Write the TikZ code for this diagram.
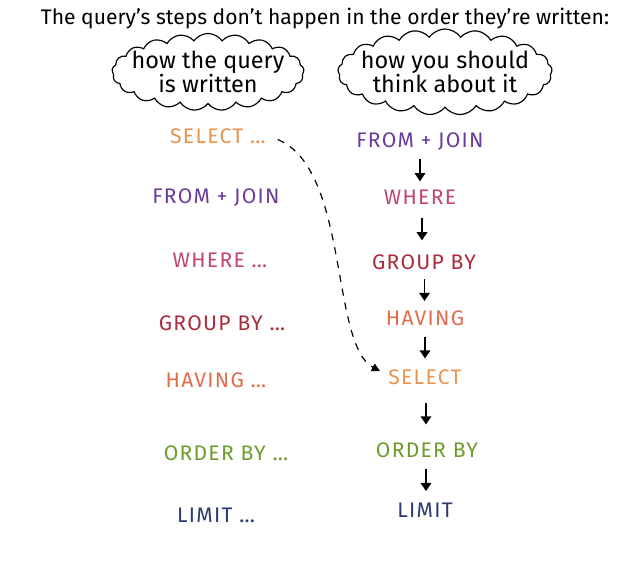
\documentclass[tikz,border=0pt]{standalone}
\usepackage{fontspec}
\setmainfont{Fira Sans}
\usetikzlibrary{positioning,arrows.meta,shapes.symbols,calc}
\definecolor{selectOrange}{HTML}{E8944E}
\definecolor{fromPurple}{HTML}{6A3C98}
\definecolor{wherePink}{HTML}{C24470}
\definecolor{groupRed}{HTML}{A82C3C}
\definecolor{havingCoral}{HTML}{E06C4C}
\definecolor{orderGreen}{HTML}{6F9A2C}
\definecolor{limitNavy}{HTML}{2C3A6C}

\begin{document}
\begin{tikzpicture}[x=0.03cm,y=-0.03cm,
  clause/.style={font=\fontsize{18}{20}\selectfont\addfontfeature{LetterSpace=6},inner sep=2pt},
  bubble/.style={cloud,draw,line width=1pt,cloud puffs=21,cloud puff arc=110,
    aspect=3.0,inner sep=-8pt,align=center,font=\fontsize{20}{20}\selectfont},
  flow/.style={-{Triangle[length=7pt,width=9pt]},line width=1.3pt}]
\useasboundingbox (0,0) rectangle (638,575);

\node (title) at (325,19) {\fontsize{18}{20}\selectfont The query's steps don't happen in the order they're written:};
\node[bubble] (written) at (208,72) {how the query\\is written};
\node[bubble] (think) at (445,72) {how you should\\think about it};

% written order
\node[clause,text=selectOrange] (l-select) at (218,136) {SELECT \dots};
\node[clause,text=fromPurple] (l-from) at (216,198) {FROM + JOIN};
\node[clause,text=wherePink] (l-where) at (220,260) {WHERE \dots};
\node[clause,text=groupRed] (l-group) at (222,323) {GROUP BY \dots};
\node[clause,text=havingCoral] (l-having) at (216,380) {HAVING \dots};
\node[clause,text=orderGreen] (l-order) at (226,453) {ORDER BY \dots};
\node[clause,text=limitNavy] (l-limit) at (216,515) {LIMIT \dots};

% execution order
\node[clause,text=fromPurple] (r-from) at (420,142) {FROM + JOIN};
\node[clause,text=wherePink] (r-where) at (420,197) {WHERE};
\node[clause,text=groupRed] (r-group) at (424,262) {GROUP BY};
\node[clause,text=havingCoral] (r-having) at (425,318) {HAVING};
\node[clause,text=selectOrange] (r-select) at (425,377) {SELECT};
\node[clause,text=orderGreen] (r-order) at (427,450) {ORDER BY};
\node[clause,text=limitNavy] (r-limit) at (425,510) {LIMIT};

\foreach \a/\b in {r-from/r-where,r-where/r-group,r-group/r-having,
  r-having/r-select,r-select/r-order,r-order/r-limit}
  \draw[flow] ($(\a.south)!0.5!(\b.north)+(0,-11)$ -| 420,0) -- ($(\a.south)!0.5!(\b.north)+(0,11)$ -| 420,0);

\draw[line width=1pt,dash pattern=on 6pt off 6pt,-{Triangle[length=7pt,width=7pt]}]
  ([xshift=8pt,yshift=-3pt]l-select.east) .. controls +(72,30) and +(-50,-27) .. ([xshift=-5pt,yshift=5pt]r-select.west);
\end{tikzpicture}
\end{document}
